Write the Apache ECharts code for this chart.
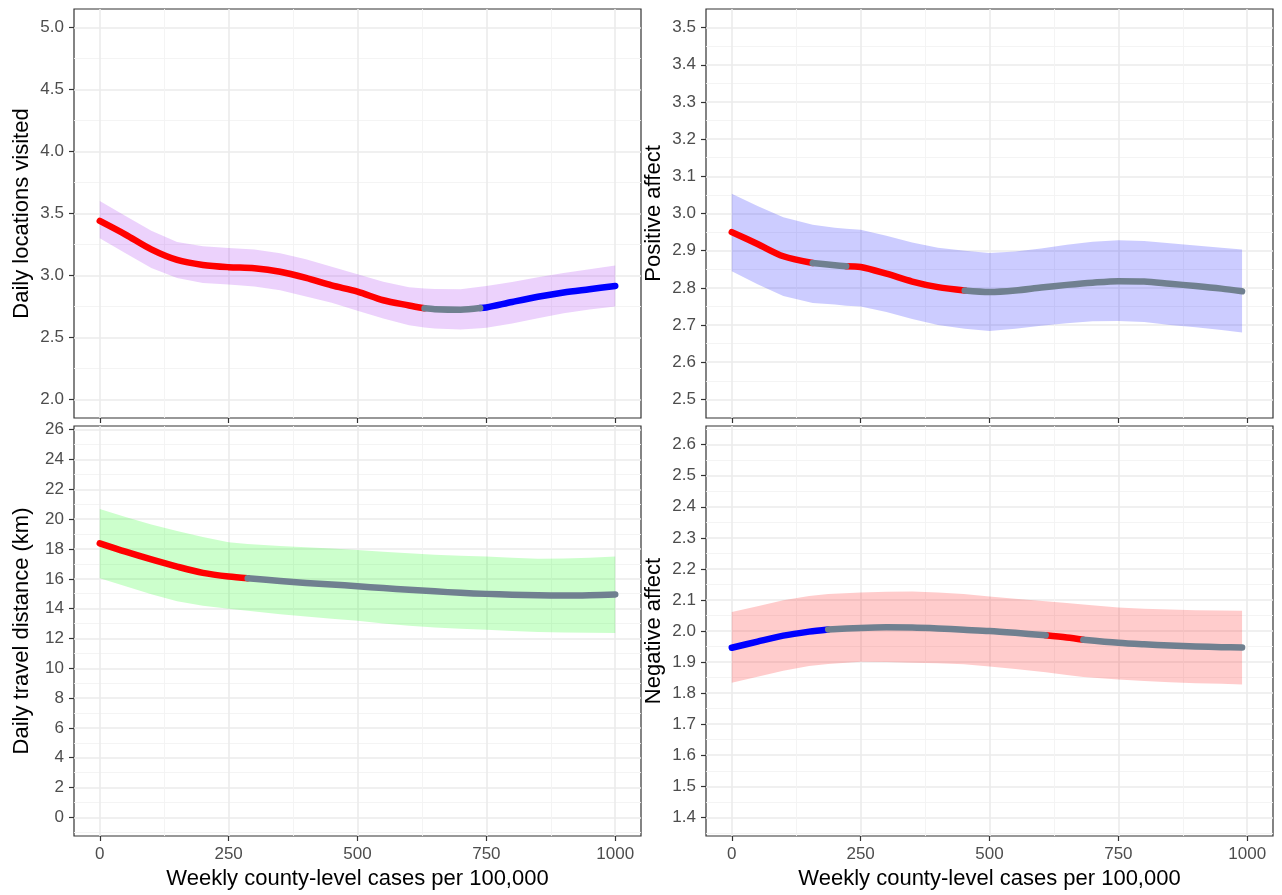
<!DOCTYPE html>
<html><head><meta charset="utf-8">
<script src="https://cdn.jsdelivr.net/npm/echarts@6/dist/echarts.min.js"></script>
<style>html,body{margin:0;padding:0;background:#fff}#c{width:1282px;height:895px}</style>
</head><body><div id="c"></div>
<script>
// ---------- shared x axis ----------
const xTicks = [0, 250, 500, 750, 1000];
const xMinor = [125, 375, 625, 875];
const xTitle = 'Weekly county-level cases per 100,000';

// ---------- Daily locations visited (top-left) ----------
const locX   = [0,50,100,150,200,250,300,350,400,450,500,550,600,630,650,700,738,750,800,850,900,950,1000];
const locFit = [3.44,3.33,3.21,3.125,3.085,3.067,3.058,3.03,2.98,2.92,2.87,2.80,2.758,2.735,2.728,2.724,2.737,2.742,2.786,2.828,2.863,2.889,2.915];
const locHi  = [3.60,3.48,3.36,3.27,3.235,3.222,3.21,3.18,3.13,3.07,3.01,2.95,2.905,2.895,2.89,2.888,2.908,2.915,2.948,2.985,3.02,3.05,3.08];
const locLo  = [3.30,3.18,3.06,2.98,2.94,2.927,2.91,2.88,2.83,2.78,2.715,2.652,2.598,2.58,2.572,2.565,2.574,2.578,2.612,2.655,2.695,2.725,2.75];
const locBreaks = [630, 738];
const locColors = ['#FF0000', '#708090', '#0000FF'];
const locTicks = [2.0,2.5,3.0,3.5,4.0,4.5,5.0];
const locMinor = [2.25,2.75,3.25,3.75,4.25,4.75];

// ---------- Positive affect (top-right) ----------
const posX   = [0,50,100,157,200,222,250,300,350,400,452,500,550,600,650,700,750,800,850,900,950,990];
const posFit = [2.950,2.918,2.885,2.867,2.861,2.858,2.856,2.838,2.817,2.802,2.793,2.789,2.793,2.801,2.808,2.814,2.818,2.817,2.811,2.805,2.798,2.791];
const posHi  = [3.053,3.02,2.99,2.970,2.962,2.959,2.956,2.94,2.922,2.908,2.90,2.894,2.898,2.906,2.916,2.924,2.928,2.926,2.92,2.914,2.908,2.903];
const posLo  = [2.845,2.81,2.778,2.759,2.755,2.752,2.75,2.735,2.716,2.70,2.69,2.684,2.69,2.698,2.705,2.71,2.711,2.708,2.70,2.694,2.687,2.68];
const posBreaks = [157, 222, 452];
const posColors = ['#FF0000', '#708090', '#FF0000', '#708090'];
const posTicks = [2.5,2.6,2.7,2.8,2.9,3.0,3.1,3.2,3.3,3.4,3.5];
const posMinor = [2.55,2.65,2.75,2.85,2.95,3.05,3.15,3.25,3.35,3.45];

// ---------- Daily travel distance (bottom-left) ----------
const disX   = [0,50,100,150,200,250,287,350,400,450,500,550,600,650,700,750,800,850,900,950,1000];
const disFit = [18.38,17.82,17.3,16.82,16.4,16.15,16.04,15.85,15.72,15.62,15.5,15.38,15.27,15.16,15.06,14.99,14.93,14.89,14.88,14.9,14.95];
const disHi  = [20.68,20.15,19.65,19.2,18.8,18.45,18.34,18.2,18.12,18.03,17.93,17.82,17.72,17.62,17.54,17.49,17.42,17.35,17.36,17.42,17.49];
const disLo  = [16.04,15.5,14.97,14.5,14.2,13.99,13.85,13.62,13.48,13.32,13.19,13.0,12.85,12.73,12.65,12.59,12.5,12.43,12.4,12.38,12.37];
const disBreaks = [287];
const disColors = ['#FF0000', '#708090'];
const disTicks = [0,2,4,6,8,10,12,14,16,18,20,22,24,26];
const disMinor = [-1,1,3,5,7,9,11,13,15,17,19,21,23,25];

// ---------- Negative affect (bottom-right) ----------
const negX   = [0,50,100,150,187,250,300,350,400,450,500,550,609,650,682,750,800,850,900,950,990];
const negFit = [1.946,1.966,1.985,1.998,2.005,2.010,2.012,2.011,2.008,2.004,2.000,1.994,1.986,1.979,1.972,1.962,1.957,1.953,1.950,1.948,1.947];
const negHi  = [2.061,2.08,2.099,2.113,2.119,2.124,2.126,2.127,2.124,2.119,2.111,2.104,2.096,2.09,2.085,2.076,2.072,2.069,2.067,2.066,2.065];
const negLo  = [1.833,1.853,1.872,1.887,1.894,1.901,1.90,1.898,1.896,1.893,1.886,1.878,1.867,1.858,1.852,1.844,1.839,1.835,1.832,1.83,1.828];
const negBreaks = [187, 609, 682];
const negColors = ['#0000FF', '#708090', '#FF0000', '#708090'];
const negTicks = [1.4,1.5,1.6,1.7,1.8,1.9,2.0,2.1,2.2,2.3,2.4,2.5,2.6];
const negMinor = [1.35,1.45,1.55,1.65,1.75,1.85,1.95,2.05,2.15,2.25,2.35,2.45,2.55,2.65];

// ---------- layout / styling ----------
const FONT = 'Liberation Sans, Arial, sans-serif';
const panels = [
  {name:'Daily locations visited', x:locX, fit:locFit, hi:locHi, lo:locLo, breaks:locBreaks, colors:locColors,
   ticks:locTicks, minor:locMinor, ymin:1.85, ymax:5.15, dec:1, band:'rgba(160,32,240,0.2)',
   rect:{left:74, top:9, width:567, height:409}, bottom:false},
  {name:'Positive affect', x:posX, fit:posFit, hi:posHi, lo:posLo, breaks:posBreaks, colors:posColors,
   ticks:posTicks, minor:posMinor, ymin:2.45, ymax:3.55, dec:1, band:'rgba(0,0,255,0.2)',
   rect:{left:706, top:9, width:567, height:409}, bottom:false},
  {name:'Daily travel distance (km)', x:disX, fit:disFit, hi:disHi, lo:disLo, breaks:disBreaks, colors:disColors,
   ticks:disTicks, minor:disMinor, ymin:-1.25, ymax:26.25, dec:0, band:'rgba(0,255,0,0.2)',
   rect:{left:74, top:426, width:567, height:410}, bottom:true},
  {name:'Negative affect', x:negX, fit:negFit, hi:negHi, lo:negLo, breaks:negBreaks, colors:negColors,
   ticks:negTicks, minor:negMinor, ymin:1.34, ymax:2.66, dec:1, band:'rgba(255,0,0,0.2)',
   rect:{left:706, top:426, width:567, height:410}, bottom:true}
];

const grid = [], xAxis = [], yAxis = [], series = [];
const majorLine = {show:true, lineStyle:{color:'#EBEBEB', width:1.6}};
const minorLine = {show:true, lineStyle:{color:'#F3F3F3', width:0.9}};
const tickStyle = {show:true, length:5, lineStyle:{color:'#333333', width:1.2}};

panels.forEach((p, i) => {
  grid.push(Object.assign({show:true, borderColor:'#333333', borderWidth:1.2, backgroundColor:'#FFFFFF'}, p.rect));
  // major x
  xAxis.push({type:'value', gridIndex:i, min:-50, max:1050, position:'bottom',
    axisLine:{show:false, onZero:false},
    axisTick:Object.assign({customValues:xTicks}, tickStyle),
    axisLabel:{show:p.bottom, customValues:xTicks, color:'#4D4D4D', fontSize:17, margin:10, fontFamily:FONT,
      formatter:v => String(v)},
    splitLine:majorLine,
    name:p.bottom ? xTitle : '', nameLocation:'middle', nameGap:32,
    nameTextStyle:{color:'#000', fontSize:22, fontFamily:FONT}});
  // minor x
  xAxis.push({type:'value', gridIndex:i, min:-50, max:1050, position:'bottom',
    axisLine:{show:false, onZero:false}, axisTick:{show:false, customValues:xMinor}, axisLabel:{show:false},
    splitLine:minorLine});
  // major y
  yAxis.push({type:'value', gridIndex:i, min:p.ymin, max:p.ymax, position:'left',
    axisLine:{show:false, onZero:false},
    axisTick:Object.assign({customValues:p.ticks}, tickStyle),
    axisLabel:{customValues:p.ticks, color:'#4D4D4D', fontSize:17, margin:10, fontFamily:FONT,
      formatter:v => Number(v).toFixed(p.dec)},
    splitLine:majorLine,
    name:p.name, nameLocation:'middle', nameGap:41,
    nameTextStyle:{color:'#000', fontSize:22, fontFamily:FONT}});
  // minor y
  yAxis.push({type:'value', gridIndex:i, min:p.ymin, max:p.ymax, position:'left',
    axisLine:{show:false, onZero:false}, axisTick:{show:false, customValues:p.minor}, axisLabel:{show:false},
    splitLine:minorLine});

  // confidence band
  const bandData = p.x.map((x,k) => [x, p.lo[k], p.hi[k]]);
  series.push({type:'custom', xAxisIndex:2*i, yAxisIndex:2*i, data:bandData, z:2, silent:true,
    encode:{x:0, y:[1,2]},
    renderItem:(params, api) => {
      if (params.dataIndex !== 0) return null;
      const pts = [];
      for (let k = 0; k < p.x.length; k++) pts.push(api.coord([p.x[k], p.hi[k]]));
      for (let k = p.x.length - 1; k >= 0; k--) pts.push(api.coord([p.x[k], p.lo[k]]));
      return {type:'polygon', shape:{points:pts}, style:{fill:p.band, stroke:null}};
    }});
  // fitted line, one series per coloured stretch
  const edges = [-Infinity].concat(p.breaks, [Infinity]);
  for (let s = 0; s < p.colors.length; s++) {
    const seg = [];
    p.x.forEach((x,k) => { if (x >= edges[s] && x <= edges[s+1]) seg.push([x, p.fit[k]]); });
    series.push({type:'line', xAxisIndex:2*i, yAxisIndex:2*i, data:seg,
      smooth:0.3, showSymbol:false, z:5 + (s % 2), silent:true, color:p.colors[s],
      lineStyle:{width:6.5, color:p.colors[s], cap:'round', join:'round'}});
  }
});

const chart = echarts.init(document.getElementById('c'), null, {renderer:'canvas'});
chart.setOption({animation:false, backgroundColor:'#FFFFFF', textStyle:{fontFamily:FONT},
  grid, xAxis, yAxis, series});
</script>
</body></html>
